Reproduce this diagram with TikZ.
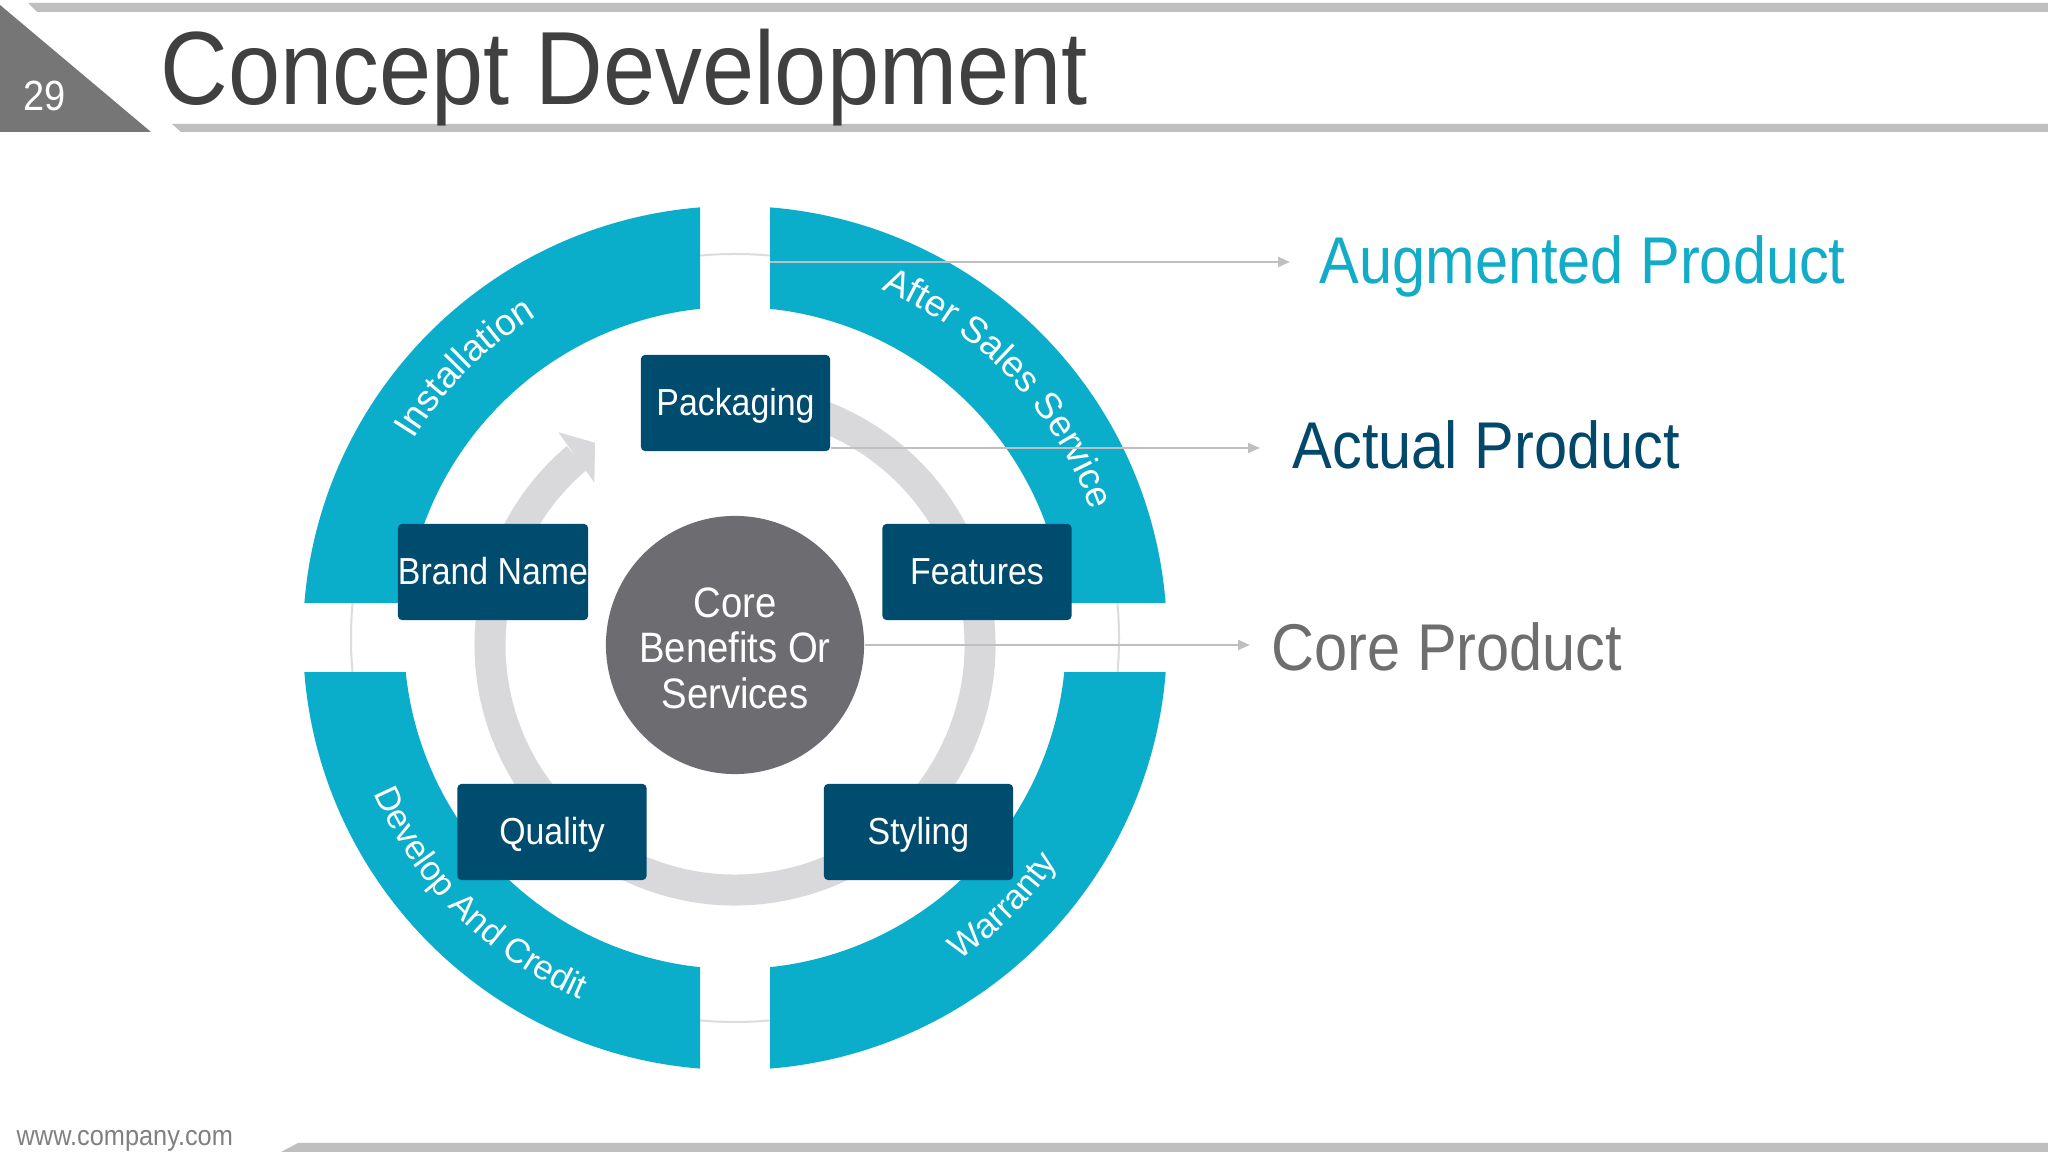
\documentclass[tikz,border=0pt]{standalone}
\usepackage{fontspec}
\setmainfont{Liberation Sans}[FakeStretch=0.9]
\newfontfamily\arcfam{Liberation Sans}
\usetikzlibrary{arrows.meta,decorations.text,calc}
\definecolor{cyanseg}{HTML}{0AAECB}
\definecolor{navy}{HTML}{004C6E}
\definecolor{coregray}{HTML}{6D6C70}
\definecolor{ringgray}{HTML}{D9D9DB}
\definecolor{thingray}{HTML}{DCDCDC}
\definecolor{linegray}{HTML}{BFBFBF}
\definecolor{bargray}{HTML}{BFBFBF}
\definecolor{tabgray}{HTML}{767676}
\definecolor{titlegray}{HTML}{404040}
\definecolor{augcol}{HTML}{12ACC8}
\definecolor{actcol}{HTML}{01486B}
\definecolor{corecol}{HTML}{6E6E6E}
\definecolor{footgray}{HTML}{808080}
\newcommand\titlefnt{\fontsize{29.6}{34}\selectfont}
\newcommand\labfnt{\fontsize{18.8}{22}\selectfont}
\newcommand\boxfnt{\fontsize{10.7}{12.8}\selectfont}
\newcommand\corefnt{\fontsize{12.1}{12.95}\selectfont}
\newcommand\arcfnt{\arcfam\fontsize{10.5}{12.5}\selectfont}
\newcommand\arcfntb{\arcfam\fontsize{9.8}{11.8}\selectfont}
\newcommand\numfnt{\fontsize{12}{14}\selectfont}
\newcommand\footfnt{\fontsize{8}{9.6}\selectfont}
\tikzset{
  boxnode/.style={fill=navy, rounded corners=0.04cm, minimum width=1.89cm, minimum height=0.96cm,
    text=white, font=\boxfnt, inner sep=0pt, text height=0.9em, text depth=0.18em},
  conn/.style={linegray, line width=0.02cm, -{Triangle[length=0.12cm,width=0.1cm]}},
  lab/.style={anchor=base west, inner sep=0pt, font=\labfnt},
  seg/.style={cyanseg, even odd rule}
}
\begin{document}
\begin{tikzpicture}[x=0.01cm, y=0.01cm]
\useasboundingbox (0,0) rectangle (2048,1152);
\fill[white] (0,0) rectangle (2048,1152);
% header and footer
\fill[bargray] (28,1149) -- (2048,1149) -- (2048,1140) -- (37,1140) -- cycle;
\fill[tabgray] (0,1147) -- (151,1020) -- (0,1020) -- cycle;
\fill[bargray] (172,1028) -- (2048,1028) -- (2048,1020) -- (181,1020) -- cycle;
\fill[bargray] (298,9) -- (2048,9) -- (2048,0) -- (281,0) -- cycle;
\node[anchor=base, text=white, font=\numfnt, inner sep=0pt] (num) at (45,1041) {29};
\node[anchor=base west, text=titlegray, font=\titlefnt, inner sep=0pt] (title) at (160,1047.5) {Concept Development};
\node[anchor=west, text=footgray, font=\footfnt, inner sep=0pt] (foot) at (16,11) {www.company.com};
% centres
\coordinate (RC) at (735,514);
\coordinate (CC) at (735,507);
% thin circle
\draw[thingray, line width=0.02cm] (RC) circle[radius=384];
% inner arrow ring
\draw[ringgray, line width=0.31cm] ([shift={(CC)}]100:245) arc[start angle=100, end angle=-229.8, radius=245];
\fill[ringgray] ([shift={(CC)}]129.7:276.5) -- ([shift={(CC)}]124.7:246) -- ([shift={(CC)}]130.9:214.8) -- cycle;
% cyan segments
\begin{scope}
\clip (770,549) rectangle (1250,1000);
\fill[seg] (RC) circle[radius=432] (RC) circle[radius=331];
\end{scope}
\begin{scope}
\clip (220,549) rectangle (700,1000);
\fill[seg] (RC) circle[radius=432] (RC) circle[radius=331];
\end{scope}
\begin{scope}
\clip (220,40) rectangle (700,479);
\fill[seg] (RC) circle[radius=432] (RC) circle[radius=331];
\end{scope}
\begin{scope}
\clip (770,40) rectangle (1250,479);
\fill[seg] (RC) circle[radius=432] (RC) circle[radius=331];
\end{scope}
% curved texts
\path[shift={(RC)}, decorate, decoration={text along path, text align=center,
  text={|\arcfnt\color{white}|Installation}}] (175:378) arc[start angle=175, end angle=95, radius=378];
\path[shift={(RC)}, decorate, decoration={text along path, text align=center,
  text={|\arcfnt\color{white}|After Sales Service}}] (83.5:378) arc[start angle=83.5, end angle=3.5, radius=378];
\path[shift={(RC)}, decorate, decoration={text along path, text align=center,
  text={|\arcfntb\color{white}|Develop And Credit}}] (185:393) arc[start angle=185, end angle=265, radius=393];
\path[shift={(RC)}, decorate, decoration={text along path, text align=center,
  text={|\arcfntb\color{white}|Warranty}}] (-85:393) arc[start angle=-85, end angle=-5, radius=393];
% core
\node[circle, fill=coregray, minimum size=2.58cm, inner sep=0pt] (core) at (CC) {};
\node[text=white, font=\corefnt, align=center, inner sep=0pt] (coretext) at ($(CC)+(0,-3)$) {Core\\Benefits Or\\Services};
% boxes
\node[boxnode] (pack) at (735.5,749) {Packaging};
\node[boxnode] (brand) at (493,580) {Brand Name};
\node[boxnode] (feat) at (977,580) {Features};
\node[boxnode] (qual) at (552,320) {Quality};
\node[boxnode] (styl) at (918.5,320) {Styling};
% connectors
\coordinate (augS) at (770,890);
\coordinate (augE) at (1290,890);
\coordinate (actE) at (1260,704);
\coordinate (coreE) at (1250,507);
\draw[conn] (augS) -- (augE);
\draw[conn] (pack.south east |- actE) -- (actE);
\draw[conn] (core.east) -- (coreE);
% labels
\node[lab, text=augcol] (aug) at (1319,868) {Augmented Product};
\node[lab, text=actcol] (act) at (1292,683) {Actual Product};
\node[lab, text=corecol] (corelab) at (1271,481) {Core Product};
\end{tikzpicture}
\end{document}
